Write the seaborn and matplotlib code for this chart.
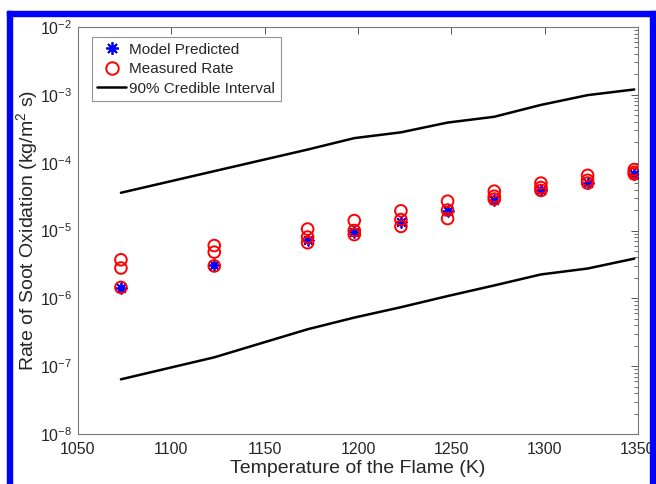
import numpy as np
import pandas as pd
import matplotlib
matplotlib.use("Agg")
import matplotlib.pyplot as plt
from matplotlib.lines import Line2D
from matplotlib.patches import Rectangle
import matplotlib.ticker as mticker
import seaborn as sns

# ---- data ----
temps = [1073, 1123, 1173, 1198, 1223, 1248, 1273, 1298, 1323, 1348]
model_predicted = [1.4e-6, 3.1e-6, 7.2e-6, 9.6e-6, 1.35e-5, 1.95e-5, 2.8e-5, 3.9e-5, 5.1e-5, 6.9e-5]
measured_a = [3.7e-6, 6.0e-6, 1.05e-5, 1.4e-5, 1.95e-5, 2.7e-5, 3.8e-5, 5.0e-5, 6.5e-5, 7.9e-5]
measured_b = [2.8e-6, 4.8e-6, 8.0e-6, 1.0e-5, 1.45e-5, 2.0e-5, 3.2e-5, 4.3e-5, 5.5e-5, 7.2e-5]
measured_c = [1.45e-6, 3.0e-6, 6.6e-6, 8.7e-6, 1.15e-5, 1.5e-5, 2.9e-5, 3.9e-5, 5.0e-5, 6.8e-5]
ci_upper = [3.6e-5, 7.5e-5, 1.56e-4, 2.3e-4, 2.8e-4, 3.9e-4, 4.75e-4, 7.1e-4, 9.9e-4, 1.2e-3]
ci_lower = [6.4e-8, 1.35e-7, 3.5e-7, 5.2e-7, 7.4e-7, 1.08e-6, 1.55e-6, 2.25e-6, 2.75e-6, 3.85e-6]
x_ticks = [1050, 1100, 1150, 1200, 1250, 1300, 1350]
legend_labels = ["Model Predicted", "Measured Rate", "90% Credible Interval"]
x_label = "Temperature of the Flame (K)"
y_label = "Rate of Soot Oxidation (kg/m$^{2}$ s)"

sns.set_style("white")
plt.rcParams["font.family"] = ["Liberation Sans", "DejaVu Sans"]
plt.rcParams["mathtext.default"] = "regular"
txt = "#262626"

df_model = pd.DataFrame({"T": temps, "rate": model_predicted})
df_meas = pd.DataFrame({"T": temps * 3, "rate": measured_a + measured_b + measured_c})
df_up = pd.DataFrame({"T": temps, "rate": ci_upper})
df_lo = pd.DataFrame({"T": temps, "rate": ci_lower})

fig = plt.figure(figsize=(6.56, 4.84), dpi=100)
ax = fig.add_axes([78 / 656, 1 - 434 / 484, 560 / 656, 407 / 484])

sns.lineplot(data=df_up, x="T", y="rate", color="black", linewidth=1.8, ax=ax)
sns.lineplot(data=df_lo, x="T", y="rate", color="black", linewidth=1.8, ax=ax)
sns.scatterplot(data=df_model, x="T", y="rate", marker=(8, 2, 0), color="blue",
                s=60, linewidth=1.3, ax=ax, zorder=3)
sns.scatterplot(data=df_meas, x="T", y="rate", marker="o", facecolor="none",
                edgecolor="red", s=70, linewidth=1.4, ax=ax, zorder=4)

ax.set_yscale("log")
ax.set_xlim(1050, 1350)
ax.set_ylim(1e-8, 1e-2)
ax.set_xticks(x_ticks)
ax.yaxis.set_major_locator(mticker.LogLocator(base=10, numticks=10))
ax.yaxis.set_minor_locator(mticker.LogLocator(base=10, subs=np.arange(2, 10), numticks=100))
ax.yaxis.set_minor_formatter(mticker.NullFormatter())

ax.tick_params(which="both", direction="in", top=True, right=True, colors="#555555",
               labelcolor=txt, labelsize=11.5)
ax.tick_params(which="major", length=5, width=0.7)
ax.tick_params(which="minor", length=2.8, width=0.6)
ax.tick_params(axis="x", pad=6)
ax.tick_params(axis="y", pad=4)
for sp in ax.spines.values():
    sp.set_color("#777777")
    sp.set_linewidth(0.8)

ax.set_xlabel(x_label, fontsize=14, color=txt, labelpad=2)
ax.set_ylabel(y_label, fontsize=14, color=txt, labelpad=0)

handles = [
    Line2D([], [], marker=(8, 2, 0), color="blue", linestyle="none", markersize=9, markeredgewidth=1.3),
    Line2D([], [], marker="o", markerfacecolor="none", markeredgecolor="red", linestyle="none",
           markersize=9, markeredgewidth=1.4),
    Line2D([], [], color="black", linewidth=1.8),
]
leg = ax.legend(handles, legend_labels, loc="upper left", bbox_to_anchor=(0.025, 0.975),
                fontsize=11, frameon=True, fancybox=False, edgecolor="#777777",
                handlelength=1.9, handletextpad=0.2, borderpad=0.35, labelspacing=0.37,
                borderaxespad=0.0)
leg.get_frame().set_linewidth(0.8)
for t in leg.get_texts():
    t.set_color(txt)

# blue frame around the picture
blue = "#0000ff"
fig.patches.append(Rectangle((7 / 656, 0), 5 / 656, 1 - 11 / 484, transform=fig.transFigure,
                             color=blue, zorder=0))
fig.patches.append(Rectangle((7 / 656, 1 - 16 / 484), 649 / 656, 5 / 484, transform=fig.transFigure,
                             color=blue, zorder=0))
fig.patches.append(Rectangle((650 / 656, 0), 6 / 656, 1 - 11 / 484, transform=fig.transFigure,
                             color=blue, zorder=0))

fig.savefig("out.png", dpi=100)
